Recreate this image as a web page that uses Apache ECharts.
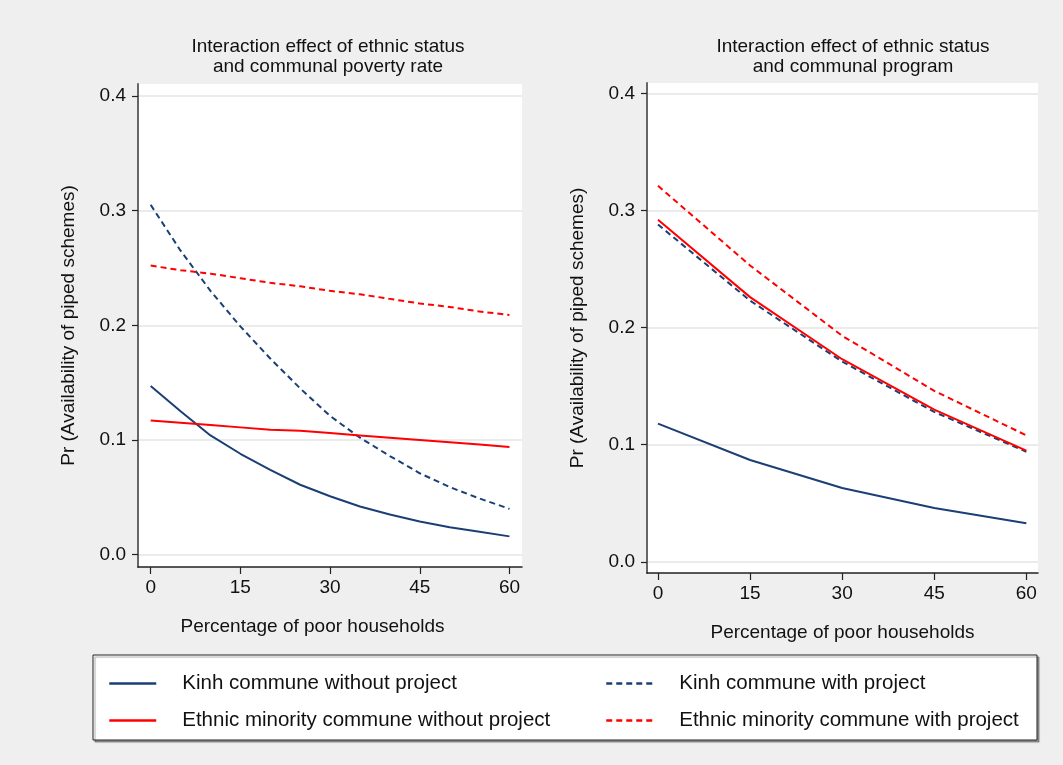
<!DOCTYPE html>
<html>
<head>
<meta charset="utf-8">
<script src="https://cdn.jsdelivr.net/npm/echarts@6/dist/echarts.min.js"></script>
<style>
  html, body { margin: 0; padding: 0; background: #efefef; }
  #chart { width: 1063px; height: 765px; }
</style>
</head>
<body>
<div id="chart"></div>
<script>
// ---- Data ----
const xLeft = [0, 5, 10, 15, 20, 25, 30, 35, 40, 45, 50, 55, 60];
const leftKinhNoProj = [0.147, 0.125, 0.104, 0.088, 0.074, 0.061, 0.051, 0.042, 0.035, 0.029, 0.024, 0.020, 0.016];
const leftKinhProj   = [0.305, 0.265, 0.230, 0.199, 0.171, 0.145, 0.121, 0.102, 0.086, 0.071, 0.059, 0.049, 0.040];
const leftEthNoProj  = [0.117, 0.115, 0.113, 0.111, 0.109, 0.108, 0.106, 0.104, 0.102, 0.100, 0.098, 0.096, 0.094];
const leftEthProj    = [0.252, 0.248, 0.245, 0.241, 0.237, 0.234, 0.230, 0.227, 0.223, 0.219, 0.216, 0.212, 0.209];

const xRight = [0, 15, 30, 45, 60];
const rightKinhNoProj = [0.118, 0.087, 0.063, 0.046, 0.033];
const rightKinhProj   = [0.288, 0.223, 0.171, 0.128, 0.094];
const rightEthNoProj  = [0.292, 0.226, 0.173, 0.130, 0.095];
const rightEthProj    = [0.321, 0.253, 0.193, 0.146, 0.108];

const xTicks = [0, 15, 30, 45, 60];
const yTicks = [0, 0.1, 0.2, 0.3, 0.4];

const titleLeft = 'Interaction effect of ethnic status\nand communal poverty rate';
const titleRight = 'Interaction effect of ethnic status\nand communal program';
const xName = 'Percentage of poor households';
const yName = 'Pr (Availability of piped schemes)';
const sKinhNo = 'Kinh commune without project';
const sKinhYes = 'Kinh commune with project';
const sEthNo = 'Ethnic minority commune without project';
const sEthYes = 'Ethnic minority commune with project';

// ---- Styling ----
const FONT = 'Liberation Sans, Arial, Helvetica, sans-serif';
const NAVY = '#1a3f75';
const RED = '#ff0000';
const TXT = '#111111';

function zip(xs, ys) { return xs.map((x, i) => [x, ys[i]]); }

function xAxisCfg(gridIndex, min, max, namePad) {
  return {
    type: 'value', gridIndex, min, max,
    name: xName, nameLocation: 'middle', nameGap: 50,
    nameTextStyle: { fontFamily: FONT, fontSize: 19, color: TXT, padding: namePad },
    axisLine: { show: true, onZero: false, lineStyle: { color: '#222', width: 1.5 } },
    axisTick: { show: true, length: 7, customValues: xTicks, lineStyle: { color: '#222', width: 1.2 } },
    axisLabel: { customValues: xTicks, margin: 11, fontFamily: FONT, fontSize: 19, color: TXT },
    splitLine: { show: false }
  };
}
function yAxisCfg(gridIndex, min, max, gap) {
  return {
    type: 'value', gridIndex, min, max,
    name: yName, nameLocation: 'middle', nameGap: gap, nameRotate: 90,
    nameTextStyle: { fontFamily: FONT, fontSize: 19, color: TXT },
    axisLine: { show: true, onZero: false, lineStyle: { color: '#666', width: 2 } },
    axisTick: { show: true, length: 6, customValues: yTicks, lineStyle: { color: '#222', width: 1.2 } },
    axisLabel: { customValues: yTicks, margin: 12, fontFamily: FONT, fontSize: 19, color: TXT,
                 formatter: v => v.toFixed(1) },
    splitLine: { show: true, lineStyle: { color: '#e4e4e4', width: 1.5 } }
  };
}
function lineSeries(name, color, dashed, xi, data) {
  return {
    type: 'line', name, xAxisIndex: xi, yAxisIndex: xi,
    data, showSymbol: false, symbol: 'none', smooth: false,
    lineStyle: { color, width: 2, type: dashed ? [6, 4] : 'solid' },
    itemStyle: { color },
    animation: false
  };
}
function legendCfg(items, left) {
  return {
    data: items, orient: 'vertical', left, top: 668,
    itemWidth: 47, itemHeight: 14, itemGap: 16,
    itemStyle: { opacity: 0 },
    lineStyle: { width: 2.5 },
    textStyle: { fontFamily: FONT, fontSize: 20.5, color: TXT, lineHeight: 21, padding: [0, 0, 0, 21] }
  };
}

const chart = echarts.init(document.getElementById('chart'), null, { renderer: 'canvas' });
chart.setOption({
  backgroundColor: '#efefef',
  animation: false,
  title: [
    { text: titleLeft, left: 323, top: 32, textAlign: 'center',
      textStyle: { fontFamily: FONT, fontSize: 19, fontWeight: 'normal', color: TXT, lineHeight: 20, align: 'center' } },
    { text: titleRight, left: 848, top: 32, textAlign: 'center',
      textStyle: { fontFamily: FONT, fontSize: 19, fontWeight: 'normal', color: TXT, lineHeight: 20, align: 'center' } }
  ],
  grid: [
    { left: 138, right: 541, top: 84, bottom: 198, show: true, backgroundColor: '#ffffff', borderWidth: 0 },
    { left: 647, right: 25, top: 83, bottom: 192, show: true, backgroundColor: '#ffffff', borderWidth: 0 }
  ],
  xAxis: [
    xAxisCfg(0, -2.12, 62.1, [0, 35, 0, 0]),
    xAxisCfg(1, -1.79, 61.9, [0, 0, 0, 0])
  ],
  yAxis: [
    yAxisCfg(0, -0.0107, 0.4103, 60),
    yAxisCfg(1, -0.0095, 0.4088, 60)
  ],
  legend: [
    legendCfg([sKinhNo, sEthNo], 103),
    legendCfg([sKinhYes, sEthYes], 600)
  ],
  graphic: [
    { type: 'rect', z: 0, shape: { x: 93, y: 655, width: 944, height: 85 },
      style: { fill: '#ffffff', stroke: '#222', lineWidth: 1,
               shadowColor: 'rgba(0,0,0,0.35)', shadowOffsetX: 2, shadowOffsetY: 2, shadowBlur: 1 } }
  ],
  series: [
    lineSeries(sKinhNo, NAVY, false, 0, zip(xLeft, leftKinhNoProj)),
    lineSeries(sKinhYes, NAVY, true, 0, zip(xLeft, leftKinhProj)),
    lineSeries(sEthNo, RED, false, 0, zip(xLeft, leftEthNoProj)),
    lineSeries(sEthYes, RED, true, 0, zip(xLeft, leftEthProj)),
    lineSeries(sKinhNo, NAVY, false, 1, zip(xRight, rightKinhNoProj)),
    lineSeries(sKinhYes, NAVY, true, 1, zip(xRight, rightKinhProj)),
    lineSeries(sEthNo, RED, false, 1, zip(xRight, rightEthNoProj)),
    lineSeries(sEthYes, RED, true, 1, zip(xRight, rightEthProj))
  ]
});
</script>
</body>
</html>
